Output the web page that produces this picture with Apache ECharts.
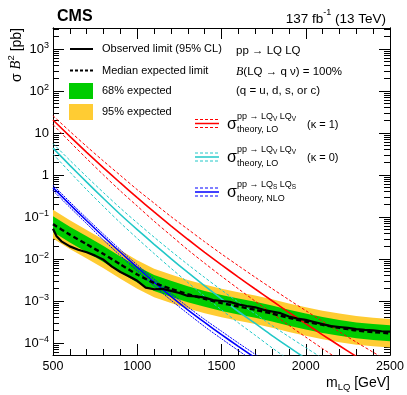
<!DOCTYPE html>
<html>
<head>
<meta charset="utf-8">
<script src="https://cdn.jsdelivr.net/npm/echarts@6/dist/echarts.min.js"></script>
<style>
  html, body { margin: 0; padding: 0; background: #fff; }
  #chart { width: 407px; height: 395px; }
</style>
</head>
<body>
<div id="chart"></div>
<script>
  // all cross sections are stored as log10(sigma B^2 / pb)
  var FONT = '"Liberation Sans", Arial, Helvetica, sans-serif';

  var yMin = -4.286, yMax = 3.5;
  var yDecades = [-4, -3, -2, -1, 0, 1, 2, 3];
  var yDecadeLabels = ['10^-4', '10^-3', '10^-2', '10^-1', '1', '10', '10^2', '10^3'];
  var xTicks = [500, 1000, 1500, 2000, 2500];

  // observed limit
  var massObs = [500, 520, 550, 600, 650, 700, 750, 800, 850, 900, 950, 1000, 1050, 1100, 1150, 1200,
    1250, 1300, 1350, 1400, 1450, 1500, 1550, 1600, 1650, 1700, 1750, 1800, 1850, 1900, 1950, 2000,
    2050, 2100, 2150, 2200, 2250, 2300, 2350, 2400, 2450, 2500];
  var obsLog = [-1.28, -1.45, -1.58, -1.70, -1.78, -1.84, -1.92, -2.02, -2.18, -2.31, -2.41, -2.52, -2.68, -2.72, -2.71, -2.76,
    -2.81, -2.88, -2.89, -2.92, -2.98, -3.00, -3.02, -3.08, -3.12, -3.15, -3.21, -3.25, -3.29, -3.37, -3.42, -3.45,
    -3.50, -3.55, -3.60, -3.62, -3.64, -3.67, -3.69, -3.70, -3.72, -3.73];

  // expected limit and bands
  var massExp = [500, 600, 700, 800, 900, 1000, 1100, 1200, 1300, 1400, 1500, 1600, 1700, 1800, 1900, 2000,
    2100, 2200, 2300, 2400, 2500];
  var expLog = [-1.17, -1.42, -1.65, -1.88, -2.13, -2.37, -2.57, -2.71, -2.84, -2.95, -3.05, -3.13, -3.21, -3.30, -3.40, -3.49,
    -3.57, -3.64, -3.70, -3.74, -3.77];
  var exp68Hi = [-0.98, -1.23, -1.46, -1.69, -1.94, -2.18, -2.38, -2.52, -2.65, -2.76, -2.86, -2.94, -3.02, -3.11, -3.21, -3.30,
    -3.38, -3.45, -3.51, -3.55, -3.58];
  var exp68Lo = [-1.36, -1.61, -1.84, -2.07, -2.32, -2.56, -2.76, -2.90, -3.03, -3.14, -3.24, -3.32, -3.40, -3.49, -3.59, -3.68,
    -3.76, -3.83, -3.89, -3.93, -3.96];
  var exp95Hi = [-0.83, -1.08, -1.31, -1.54, -1.79, -2.03, -2.23, -2.37, -2.50, -2.61, -2.71, -2.79, -2.87, -2.96, -3.06, -3.15,
    -3.23, -3.30, -3.36, -3.40, -3.43];
  var exp95Lo = [-1.51, -1.76, -1.99, -2.22, -2.47, -2.71, -2.91, -3.05, -3.18, -3.29, -3.39, -3.47, -3.55, -3.64, -3.74, -3.83,
    -3.91, -3.98, -4.04, -4.08, -4.11];

  // theory cross sections (same mass points as massExp)
  var vecK1 = [1.31, 0.92, 0.54, 0.17, -0.19, -0.54, -0.88, -1.21, -1.53, -1.84, -2.14, -2.43, -2.715, -2.995, -3.27, -3.54,
    -3.805, -4.065, -4.32, -4.57, -4.815];
  var vecK1Up = [1.41, 1.04, 0.68, 0.33, -0.01, -0.35, -0.67, -0.99, -1.29, -1.59, -1.88, -2.16, -2.435, -2.705, -2.97, -3.23,
    -3.485, -3.735, -3.98, -4.22, -4.455];
  var vecK1Dn = [1.20, 0.79, 0.39, 0.00, -0.38, -0.74, -1.10, -1.44, -1.78, -2.10, -2.41, -2.71, -3.005, -3.295, -3.58, -3.86,
    -4.135, -4.405, -4.67, -4.93, -5.185];
  var vecK0 = [0.64, 0.23, -0.17, -0.56, -0.94, -1.30, -1.65, -1.99, -2.32, -2.64, -2.95, -3.25, -3.535, -3.825, -4.10, -4.37,
    -4.635, -4.895, -5.15, -5.40, -5.645];
  var vecK0Up = [0.75, 0.35, -0.04, -0.42, -0.79, -1.14, -1.48, -1.81, -2.13, -2.44, -2.74, -3.03, -3.305, -3.585, -3.85, -4.11,
    -4.365, -4.615, -4.86, -5.10, -5.335];
  var vecK0Dn = [0.50, 0.07, -0.35, -0.75, -1.14, -1.51, -1.87, -2.22, -2.56, -2.89, -3.21, -3.52, -3.815, -4.115, -4.40, -4.68,
    -4.955, -5.225, -5.49, -5.75, -6.005];
  var scalar = [-0.30, -0.70, -1.09, -1.47, -1.84, -2.20, -2.55, -2.89, -3.21, -3.51, -3.80, -4.08, -4.355, -4.625, -4.89, -5.15,
    -5.41, -5.67, -5.93, -6.19, -6.45];
  var scalarUp = [-0.24, -0.64, -1.03, -1.41, -1.78, -2.14, -2.48, -2.82, -3.14, -3.44, -3.72, -4.00, -4.27, -4.54, -4.80, -5.06,
    -5.32, -5.58, -5.84, -6.10, -6.36];
  var scalarDn = [-0.37, -0.77, -1.16, -1.55, -1.92, -2.28, -2.64, -2.98, -3.30, -3.61, -3.90, -4.18, -4.46, -4.73, -5.00, -5.26,
    -5.52, -5.78, -6.04, -6.30, -6.56];

  var RED = '#ff0000', CYAN = '#22c8c8', BLUE = '#0000ff';
  var GREEN = '#00cc00', YELLOW = '#ffcc33';

  function pairs(xs, ys) {
    return xs.map(function (x, i) { return [x, ys[i]]; });
  }
  function curve(xs, ys, color, width, dash, smooth) {
    return {
      type: 'line', data: pairs(xs, ys), symbol: 'none', silent: true, smooth: smooth || false,
      lineStyle: { color: color, width: width, type: dash || 'solid' }
    };
  }
  // filled band between lo and hi, drawn as one polygon through the axis scales
  function band(lo, hi, color) {
    return {
      type: 'custom', silent: true, clip: true, data: [[massExp[0], lo[0]]],
      renderItem: function (params, api) {
        var pts = [];
        for (var i = 0; i < massExp.length; i++) pts.push(api.coord([massExp[i], hi[i]]));
        for (var j = massExp.length - 1; j >= 0; j--) pts.push(api.coord([massExp[j], lo[j]]));
        return { type: 'polygon', shape: { points: pts }, style: { fill: color, stroke: null } };
      }
    };
  }

  var yMinor = [];
  for (var n = -5; n <= 3; n++) {
    for (var k = 2; k <= 9; k++) {
      var v = n + Math.log10(k);
      if (v > yMin && v < yMax) yMinor.push(v);
    }
  }

  function decadeLabel(v) {
    var s = yDecadeLabels[yDecades.indexOf(Math.round(v))] || '';
    var p = s.split('^');
    if (p.length === 1) return '{b|' + s + '}';
    return '{b|' + p[0] + '}{sup|' + p[1].replace('-', '\u2212') + '}';
  }

  function yAxisDef(pos, ticks, len, labels) {
    return {
      type: 'value', min: yMin, max: yMax, position: pos,
      axisLine: { show: true, onZero: false, lineStyle: { color: '#000', width: 1 } },
      axisTick: { show: true, inside: true, length: len, customValues: ticks, lineStyle: { color: '#000' } },
      axisLabel: labels ? {
        show: true, customValues: yDecades, margin: 4, formatter: decadeLabel,
        rich: {
          b: { fontFamily: FONT, fontSize: 13, color: '#000', lineHeight: 16, verticalAlign: 'middle' },
          sup: { fontFamily: FONT, fontSize: 9, color: '#000', lineHeight: 16, verticalAlign: 'top' }
        }
      } : { show: false },
      splitLine: { show: false }
    };
  }
  function xAxisDef(pos, labels) {
    return {
      type: 'value', min: 500, max: 2500, interval: 500, position: pos,
      axisLine: { show: true, onZero: false, lineStyle: { color: '#000', width: 1 } },
      axisTick: { show: true, inside: true, length: 11, lineStyle: { color: '#000' } },
      minorTick: { show: true, splitNumber: 5, length: 6, lineStyle: { color: '#000' } },
      axisLabel: labels ? {
        show: true, margin: 5, fontFamily: FONT, fontSize: 12.5, color: '#000',
        customValues: xTicks, formatter: function (v) { return String(v); }
      } : { show: false },
      splitLine: { show: false }
    };
  }

  function txt(x, y, text, style) {
    return {
      type: 'text', x: x, y: y, silent: true, z: 100,
      style: Object.assign({ text: text, fill: '#000', fontFamily: FONT, fontSize: 11, align: 'left', verticalAlign: 'middle' }, style || {})
    };
  }
  function seg(x1, y1, x2, y2, color, width, dash) {
    return {
      type: 'line', silent: true, z: 100, shape: { x1: x1, y1: y1, x2: x2, y2: y2 },
      style: { stroke: color, lineWidth: width, lineDash: dash || null }
    };
  }
  function theoryEntry(y, color, supA, supB, sub, kappa) {
    var g = [
      seg(195, y, 219, y, color, 1.5),
      seg(195, y - 4, 219, y - 4, color, 1, [3, 2]),
      seg(195, y + 4, 219, y + 4, color, 1, [3, 2]),
      txt(227, y + 1, '\u03c3', { fontSize: 16 }),
      txt(237, y - 7, '{a|pp \u2192 LQ}{s|' + supA + '}{a| LQ}{s|' + supB + '}', {
        rich: {
          a: { fontFamily: FONT, fontSize: 9, lineHeight: 12, verticalAlign: 'middle' },
          s: { fontFamily: FONT, fontSize: 6.5, lineHeight: 12, verticalAlign: 'bottom' }
        }
      }),
      txt(237, y + 6.5, sub, { fontSize: 9 })
    ];
    if (kappa) g.push(txt(307, y + 1, kappa, { fontSize: 11 }));
    return g;
  }

  var graphics = [
    txt(57, 17, 'CMS', { fontSize: 16, fontWeight: 'bold' }),
    txt(386, 17, '{n|137 fb}{s|-1}{n| (13 TeV)}', {
      align: 'right',
      rich: {
        n: { fontFamily: FONT, fontSize: 13.5, lineHeight: 18, verticalAlign: 'bottom' },
        s: { fontFamily: FONT, fontSize: 9, lineHeight: 18, verticalAlign: 'top' }
      }
    }),
    txt(390, 383, '{n|m}{s|LQ}{n| [GeV]}', {
      align: 'right',
      rich: {
        n: { fontFamily: FONT, fontSize: 14, lineHeight: 18, verticalAlign: 'middle' },
        s: { fontFamily: FONT, fontSize: 9.5, lineHeight: 18, verticalAlign: 'bottom' }
      }
    }),
    {
      type: 'text', x: 15, y: 28, rotation: Math.PI / 2, silent: true, z: 100,
      style: {
        text: '{n|\u03c3 }{i|B}{s|2}{n| [pb]}', align: 'right', verticalAlign: 'middle', fill: '#000',
        rich: {
          n: { fontFamily: FONT, fontSize: 14, lineHeight: 18, verticalAlign: 'bottom' },
          i: { fontFamily: '"Liberation Serif", serif', fontStyle: 'italic', fontSize: 14.5, lineHeight: 18, verticalAlign: 'bottom' },
          s: { fontFamily: FONT, fontSize: 9.5, lineHeight: 18, verticalAlign: 'top' }
        }
      }
    },
    // left legend column
    seg(70, 49, 93, 49, '#000', 2),
    txt(102, 49, 'Observed limit (95% CL)'),
    seg(70, 70.5, 93, 70.5, '#000', 2, [3, 2]),
    txt(102, 70.5, 'Median expected limit'),
    { type: 'rect', silent: true, z: 100, shape: { x: 69, y: 83, width: 24, height: 16 }, style: { fill: GREEN } },
    txt(102, 91, '68% expected'),
    { type: 'rect', silent: true, z: 100, shape: { x: 69, y: 104, width: 24, height: 16 }, style: { fill: YELLOW } },
    txt(102, 112, '95% expected'),
    // right legend column
    txt(236, 51, 'pp \u2192 LQ LQ', { fontSize: 11.5 }),
    txt(236, 71.5, '{i|B}{n|(LQ \u2192 q \u03bd) = 100%}', {
      rich: {
        i: { fontFamily: '"Liberation Serif", serif', fontStyle: 'italic', fontSize: 12 },
        n: { fontFamily: FONT, fontSize: 11.5 }
      }
    }),
    txt(236, 91, '(q = u, d, s, or c)', { fontSize: 11.5 })
  ].concat(
    theoryEntry(123.5, RED, 'V', 'V', 'theory, LO', '(\u03ba = 1)'),
    theoryEntry(157, CYAN, 'V', 'V', 'theory, LO', '(\u03ba = 0)'),
    theoryEntry(192, BLUE, 'S', 'S', 'theory, NLO', null)
  );

  var series = [
    band(exp95Lo, exp95Hi, YELLOW),
    band(exp68Lo, exp68Hi, GREEN),
    curve(massExp, vecK1Up, RED, 1, [3, 2], 0.3),
    curve(massExp, vecK1Dn, RED, 1, [3, 2], 0.3),
    curve(massExp, vecK1, RED, 1.6, null, 0.3),
    curve(massExp, vecK0Up, CYAN, 1, [3, 2], 0.3),
    curve(massExp, vecK0Dn, CYAN, 1, [3, 2], 0.3),
    curve(massExp, vecK0, CYAN, 1.6, null, 0.3),
    curve(massExp, scalarUp, BLUE, 1, [2, 1], 0.3),
    curve(massExp, scalarDn, BLUE, 1, [2, 1], 0.3),
    curve(massExp, scalar, BLUE, 1.6, null, 0.3),
    curve(massExp, expLog, '#000', 2.4, [5, 3], 0.2),
    curve(massObs, obsLog, '#000', 2.2, null, false)
  ];

  var chart = echarts.init(document.getElementById('chart'), null, { renderer: 'canvas' });
  chart.setOption({
    backgroundColor: '#fff',
    animation: false,
    grid: { left: 53, right: 17, top: 28, bottom: 40, containLabel: false },
    xAxis: [xAxisDef('bottom', true), xAxisDef('top', false)],
    yAxis: [
      yAxisDef('left', yDecades, 11, true),
      yAxisDef('left', yMinor, 6, false),
      yAxisDef('right', yDecades, 11, false),
      yAxisDef('right', yMinor, 6, false)
    ],
    series: series,
    graphic: graphics
  });
</script>
</body>
</html>
